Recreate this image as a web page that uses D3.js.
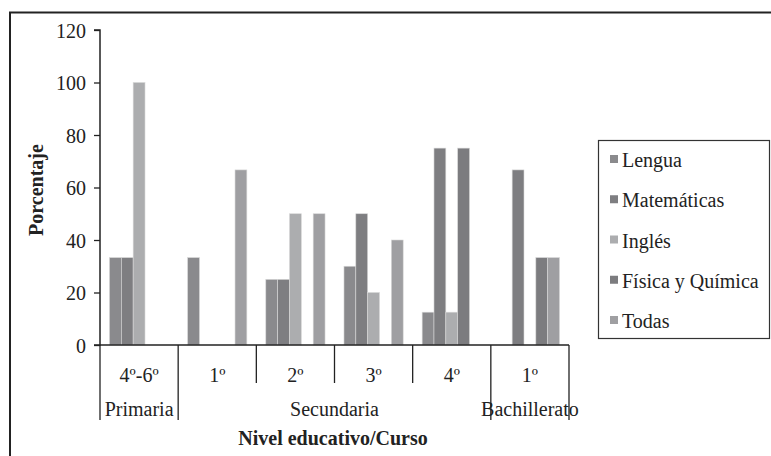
<!DOCTYPE html>
<html><head><meta charset="utf-8">
<script src="https://cdn.jsdelivr.net/npm/d3@7"></script>
</head><body style="margin:0"><svg id="c" width="771" height="456" font-family="Liberation Serif"></svg>
<script>
const categories = ["4º-6º","1º","2º","3º","4º","1º"];
const levels = [{name:"Primaria",start:0,end:1},{name:"Secundaria",start:1,end:5},{name:"Bachillerato",start:5,end:6}];
const series = ["Lengua","Matemáticas","Inglés","Física y Química","Todas"];
const lengua   = [33.3, 33.3, 25, 30, 12.5, 0];
const matematicas = [33.3, 0, 25, 50, 75, 66.7];
const ingles   = [100, 0, 50, 20, 12.5, 0];
const fisica   = [0, 0, 0, 0, 75, 33.3];
const todas    = [0, 66.7, 50, 40, 0, 33.3];
const yTicks = [0,20,40,60,80,100,120];
const colors = ["#8a8a8d","#7e7e81","#acadaf","#7c7c7f","#9f9fa2"];
const values = [lengua, matematicas, ingles, fisica, todas];
const FONT = '"Times New Roman"';

const svg = d3.select("#c");
svg.append("rect").attr("width",771).attr("height",456).attr("fill","#fff");
// outer frame
svg.append("path").attr("d","M10,456 L10,12.5 L771,12.5").attr("fill","none").attr("stroke","#222").attr("stroke-width",2);

const x0 = 100, x1 = 569, yTop = 30, yBot = 345;
const x = d3.scaleBand().domain(d3.range(categories.length)).range([x0,x1]).paddingInner(0).paddingOuter(0);
const xs = d3.scaleBand().domain(d3.range(series.length)).range([0,x.bandwidth()]).paddingOuter(0.8).paddingInner(0);
const y = d3.scaleLinear().domain([0,120]).range([yBot,yTop]);

// bars
series.forEach((s,si)=>{
  svg.append("g").selectAll("rect").data(values[si].map((v,i)=>({v,i})).filter(d=>d.v>0)).join("rect")
    .attr("x",d=>x(d.i)+xs(si)).attr("width",xs.bandwidth())
    .attr("y",d=>y(d.v)).attr("height",d=>yBot-y(d.v))
    .attr("fill",colors[si]).attr("stroke","#d8d8d8").attr("stroke-width",0.6);
});

// y axis
const ya = svg.append("g").attr("transform",`translate(${x0},0)`)
  .call(d3.axisLeft(y).tickValues(yTicks).tickSize(6).tickPadding(8));
ya.attr("font-family",FONT).attr("font-size",20);
ya.select(".domain").attr("stroke","#222").attr("stroke-width",1.5).attr("d",`M-6,${yTop}H0V${yBot}H-6`);
ya.selectAll(".tick line").attr("stroke","#222").attr("stroke-width",1.3);
ya.selectAll(".tick text").style("font-size","20px").style("font-family",FONT).attr("fill","#222").attr("dy","0.35em");

// x axis line
svg.append("line").attr("x1",x0).attr("x2",x1).attr("y1",yBot).attr("y2",yBot).attr("stroke","#222").attr("stroke-width",1.5);
// category separators
const bounds = d3.range(categories.length+1);
const levelBounds = new Set(levels.flatMap(l=>[l.start,l.end]));
svg.append("g").selectAll("line").data(bounds).join("line")
  .attr("x1",i=>i<categories.length?x(i):x1).attr("x2",i=>i<categories.length?x(i):x1)
  .attr("y1",yBot).attr("y2",i=>levelBounds.has(i)?420:383)
  .attr("stroke","#222").attr("stroke-width",1.3);
// category labels
svg.append("g").selectAll("text").data(categories).join("text")
  .attr("x",(d,i)=>x(i)+x.bandwidth()/2).attr("y",382).attr("text-anchor","middle")
  .attr("fill","#222").style("font-family",FONT).style("font-size","20px").text(d=>d);
// level labels
const bx = i=> i<categories.length?x(i):x1;
svg.append("g").selectAll("text").data(levels).join("text")
  .attr("x",d=>(bx(d.start)+bx(d.end))/2).attr("y",416).attr("text-anchor","middle")
  .attr("fill","#222").style("font-family",FONT).style("font-size","20px").text(d=>d.name);

// axis titles
svg.append("text").attr("transform","translate(43,190) rotate(-90)").attr("text-anchor","middle")
  .attr("fill","#222").style("font-family",FONT).style("font-size","20px").style("font-weight","bold").text("Porcentaje");
svg.append("text").attr("x",333).attr("y",445).attr("text-anchor","middle")
  .attr("fill","#222").style("font-family",FONT).style("font-size","20px").style("font-weight","bold").text("Nivel educativo/Curso");

// legend
const lg = svg.append("g");
lg.append("rect").attr("x",598.5).attr("y",140.5).attr("width",171).attr("height",198).attr("fill","#fff").attr("stroke","#333").attr("stroke-width",1.2);
const ly = d3.scalePoint().domain(series).range([161,322]);
lg.selectAll("rect.k").data(series).join("rect").attr("class","k")
  .attr("x",610).attr("y",d=>ly(d)-6).attr("width",8).attr("height",8)
  .attr("fill",(d,i)=>colors[i]);
lg.selectAll("text").data(series).join("text")
  .attr("x",622).attr("y",d=>ly(d)+6).attr("fill","#222").style("font-family",FONT).style("font-size","20px").text(d=>d);
</script></body></html>
